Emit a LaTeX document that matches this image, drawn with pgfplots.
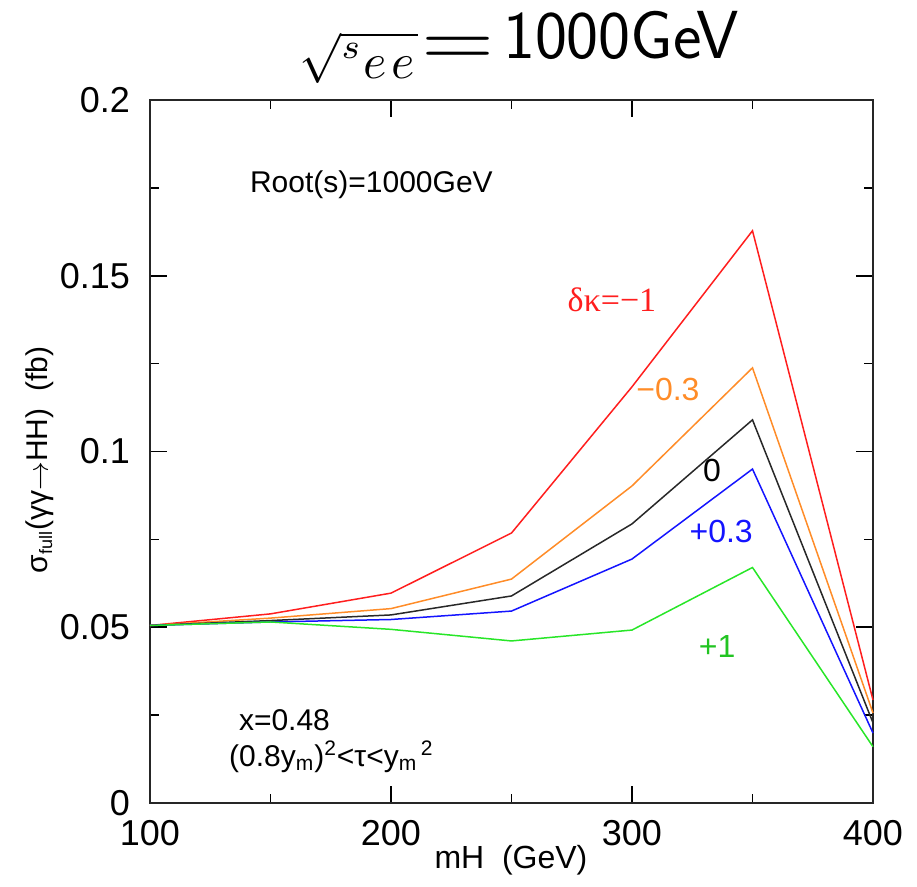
\documentclass[border=0pt]{standalone}
\usepackage[no-math]{fontspec}
\setmainfont{Liberation Sans}
\newfontfamily\seriffont{Liberation Serif}
\usepackage{graphicx}
\usepackage{pgfplots}
\pgfplotsset{compat=1.18}
\definecolor{cred}{RGB}{255,30,30}
\definecolor{corange}{RGB}{255,140,40}
\definecolor{cblack}{RGB}{40,40,40}
\definecolor{cblue}{RGB}{20,20,255}
\definecolor{cgreen}{RGB}{40,230,40}
\begin{document}
\begin{tikzpicture}
\begin{axis}[
  scale only axis,
  width=361.5pt, height=351.5pt,
  xmin=100, xmax=400, ymin=0, ymax=0.2,
  xtick={100,200,300,400},
  ytick={0,0.05,0.1,0.15,0.2},
  yticklabels={0,0.05,0.1,0.15,0.2},
  xticklabels={100,200,300,400},
  scaled y ticks=false,
  scaled x ticks=false,
  minor xtick={150,250,350},
  minor ytick={0.025,0.075,0.125,0.175},
  tick align=inside,
  major tick length=8.5pt,
  minor tick length=4.5pt,
  tick style={black, line width=0.8pt},
  axis line style={line width=0.9pt, black!85},
  /pgf/number format/assume math mode=true,
  ticklabel style={font=\fontsize{18}{21}\selectfont},
  yticklabel style={xshift=-6.5pt},
  xticklabel style={yshift=-5pt},
  clip=false,
  xlabel={mH\ \ (GeV)},
  xlabel style={font=\fontsize{16}{19}\selectfont, at={(axis description cs:0.4993,-0.081)}, anchor=center},
  ylabel={σ\textsubscript{\fontsize{9}{10}\selectfont full}(γγ$\rightarrow$HH)\ \ (fb)},
  ylabel style={font=\fontsize{15}{18}\selectfont, at={(axis description cs:-0.152,0.488)}, anchor=center, rotate=0},
  every axis plot/.append style={line width=0.75pt},
]
\addplot[cred] coordinates {(100,0.0505) (150,0.0538) (200,0.0597) (250,0.0768) (300,0.1184) (350,0.1628) (400,0.0293)};
\addplot[corange] coordinates {(100,0.0505) (150,0.0526) (200,0.0553) (250,0.0637) (300,0.0902) (350,0.1238) (400,0.0256)};
\addplot[cblack] coordinates {(100,0.0505) (150,0.0519) (200,0.0535) (250,0.0589) (300,0.0794) (350,0.1090) (400,0.0228)};
\addplot[cblue] coordinates {(100,0.0505) (150,0.0515) (200,0.0522) (250,0.0546) (300,0.0694) (350,0.0950) (400,0.0199)};
\addplot[cgreen] coordinates {(100,0.0505) (150,0.0515) (200,0.0494) (250,0.0461) (300,0.0492) (350,0.0670) (400,0.0160)};

\node[anchor=west, font=\fontsize{15}{18}\selectfont] at (axis cs:138.6,0.1758) {Root(s)=1000GeV};
\node[text=cred, font=\seriffont\fontsize{17}{20}\selectfont] at (axis cs:291.7,0.1431) {δκ=−1};
\node[text=corange, font=\fontsize{16}{19}\selectfont] at (axis cs:314.9,0.1175) {−0.3};
\node[text=black, font=\fontsize{16}{19}\selectfont] at (axis cs:333.2,0.0947) {0};
\node[text=cblue, font=\fontsize{16}{19}\selectfont] at (axis cs:337,0.0771) {+0.3};
\node[text=cgreen!85!black, font=\fontsize{16}{19}\selectfont] at (axis cs:335.3,0.0444) {+1};
\node[anchor=west, font=\fontsize{15}{18}\selectfont] at (axis cs:134,0.0236) {x=0.48};
\node[anchor=west, font=\fontsize{15}{18}\selectfont] at (axis cs:129.9,0.0131) {(0.8y\textsubscript{m})\textsuperscript{2}<τ<y\textsubscript{m}\textsuperscript{\,2}};
\node[anchor=base, inner sep=0pt, font=\fontsize{10}{12}\selectfont] at (axis cs:253.3,0.2119) {%
  \raisebox{-8pt}{\scalebox{2.5}{$\sqrt{\raisebox{3.1pt}{$\scriptstyle s$}\mkern1mu\raisebox{-0.9pt}{$e\mkern2mu e$}\mkern1mu}$}}%
  \hspace{2pt}\raisebox{-3.5pt}{\scalebox{4.7}[3.85]{$=$}}%
  \hspace{4pt}{\fontsize{34}{40}\selectfont\textsf{1000GeV}}};
\end{axis}
\pgfresetboundingbox
\path (current axis.south west) ++(-75pt,-42pt) rectangle ++(458.5pt,443.5pt);
\end{tikzpicture}
\end{document}
